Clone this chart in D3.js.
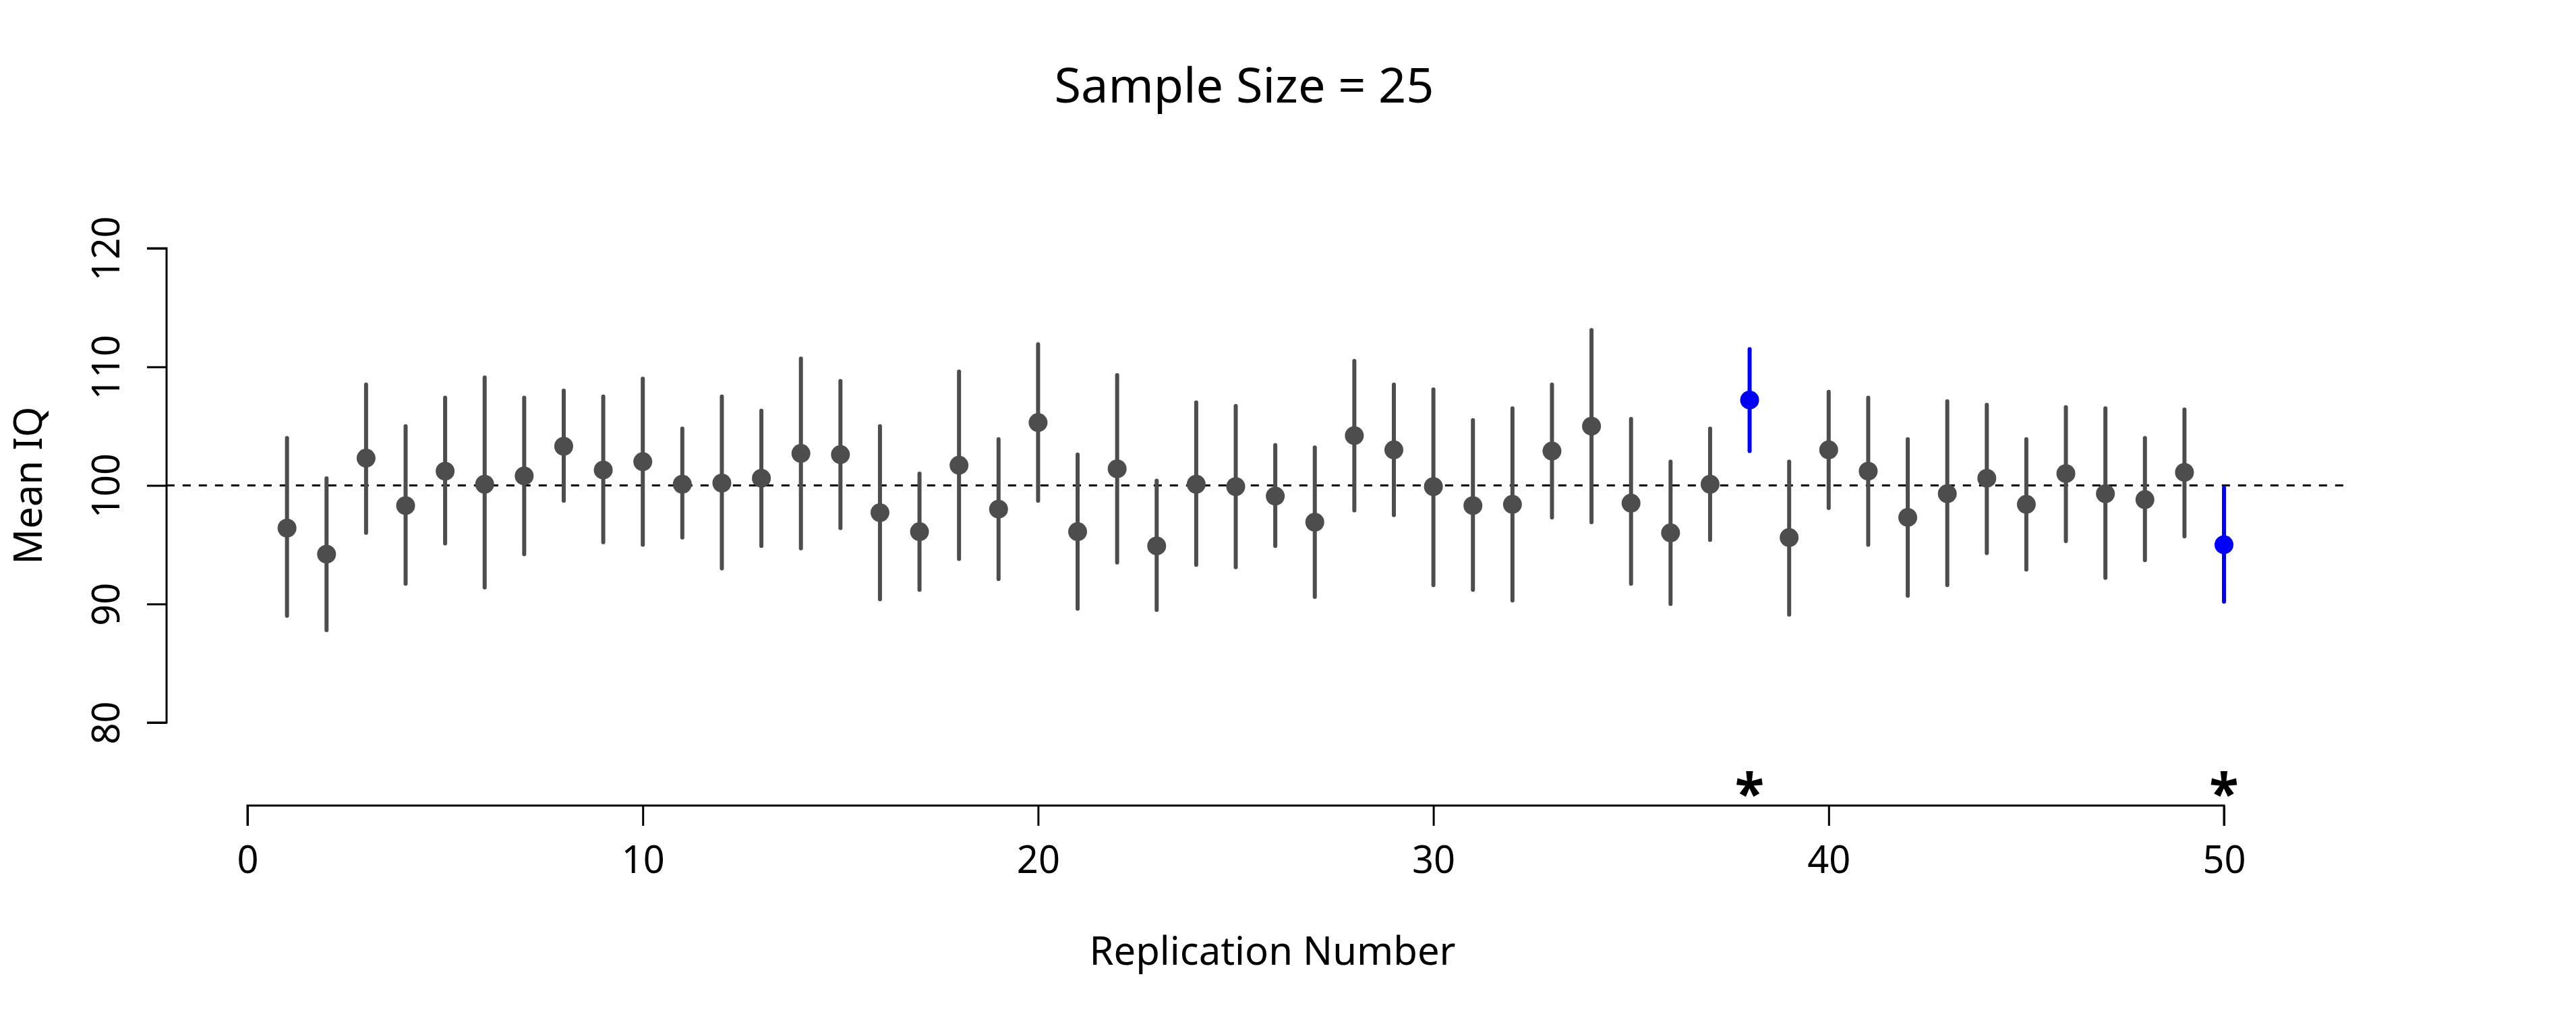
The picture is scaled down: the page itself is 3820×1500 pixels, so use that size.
<!DOCTYPE html>
<html>
<head>
<meta charset="utf-8">
<script src="https://cdn.jsdelivr.net/npm/d3@7"></script>
<style>
  body { margin: 0; background: #fff; }
  text { font-family: "Noto Sans", "Open Sans", sans-serif; }
</style>
</head>
<body>
<svg id="chart" width="3820" height="1500"></svg>
<script>
// one entry per replication
const means = [96.4, 94.2, 102.3, 98.3, 101.2, 100.1, 100.8, 103.3, 101.3, 102.0,
               100.1, 100.2, 100.6, 102.7, 102.6, 97.7, 96.1, 101.7, 98.0, 105.3,
               96.1, 101.4, 94.9, 100.1, 99.9, 99.1, 96.9, 104.2, 103.0, 99.9,
               98.3, 98.4, 102.9, 105.0, 98.5, 96.0, 100.1, 107.2, 95.6, 103.0,
               101.2, 97.3, 99.3, 100.6, 98.4, 101.0, 99.3, 98.8, 101.1, 95.0];
const upper = [104.0, 100.6, 108.5, 105.0, 107.4, 109.1, 107.4, 108.0, 107.5, 109.0,
               104.8, 107.5, 106.3, 110.7, 108.8, 105.0, 101.0, 109.6, 103.9, 111.9,
               102.6, 109.3, 100.4, 107.0, 106.7, 103.4, 103.2, 110.5, 108.5, 108.1,
               105.5, 106.5, 108.5, 113.1, 105.6, 102.0, 104.8, 111.5, 102.0, 107.9,
               107.4, 103.9, 107.1, 106.8, 103.9, 106.6, 106.5, 104.0, 106.4, 99.8];
const lower = [89.0, 87.8, 96.0, 91.7, 95.1, 91.4, 94.2, 98.7, 95.2, 95.0,
               95.6, 93.0, 94.9, 94.7, 96.4, 90.4, 91.2, 93.8, 92.1, 98.7,
               89.6, 93.5, 89.5, 93.3, 93.1, 94.9, 90.6, 97.9, 97.5, 91.6,
               91.2, 90.3, 97.3, 96.9, 91.7, 90.0, 95.4, 102.9, 89.1, 98.1,
               95.0, 90.7, 91.6, 94.3, 92.9, 95.3, 92.2, 93.7, 95.7, 90.2];
const xTicks = [0, 10, 20, 30, 40, 50];
const yTicks = [80, 90, 100, 110, 120];
const trueMean = 100;

const data = means.map((m, i) => ({rep: i + 1, mean: m, hi: upper[i], lo: lower[i]}));
data.forEach(d => d.miss = d.hi < trueMean || d.lo > trueMean);

const svg = d3.select("#chart");
const x = d3.scaleLinear().domain([0, 50]).range([367, 3298]);
const y = d3.scaleLinear().domain([80, 120]).range([1071, 368]);

// y axis, labels rotated like R's las=0
const yAxis = svg.append("g").attr("transform", "translate(247,0)")
  .call(d3.axisLeft(y).tickValues(yTicks).tickSize(29));
yAxis.select(".domain").attr("stroke-width", 3).attr("d", `M-29,${y(80)}H0V${y(120)}H-29`);
yAxis.selectAll(".tick line").attr("stroke-width", 3);
yAxis.selectAll(".tick text")
  .attr("font-size", 56).attr("x", null).attr("dy", null)
  .attr("text-anchor", "middle")
  .attr("transform", "translate(-70,0) rotate(-90)");

// x axis
const xAxis = svg.append("g").attr("transform", "translate(0,1194)")
  .call(d3.axisBottom(x).tickValues(xTicks).tickSize(30).tickPadding(30));
xAxis.select(".domain").attr("stroke-width", 3).attr("d", `M${x(0)},30V0H${x(50)}V30`);
xAxis.selectAll(".tick line").attr("stroke-width", 3);
xAxis.selectAll(".tick text").attr("font-size", 56);

// reference line
svg.append("line")
  .attr("x1", x(-2.05)).attr("x2", x(53.05))
  .attr("y1", y(trueMean)).attr("y2", y(trueMean))
  .attr("stroke", "#000").attr("stroke-width", 3).attr("stroke-dasharray", "12,12");

// intervals and means
const g = svg.append("g").selectAll("g").data(data).join("g");
g.append("line")
  .attr("x1", d => x(d.rep)).attr("x2", d => x(d.rep))
  .attr("y1", d => y(d.lo)).attr("y2", d => y(d.hi))
  .attr("stroke", d => d.miss ? "#0000ff" : "#4d4d4d")
  .attr("stroke-width", 6).attr("stroke-linecap", "round");
g.append("circle")
  .attr("cx", d => x(d.rep)).attr("cy", d => y(d.mean)).attr("r", 14)
  .attr("fill", d => d.miss ? "#0000ff" : "#4d4d4d");

// asterisks for misses
svg.append("g").selectAll("text").data(data.filter(d => d.miss)).join("text")
  .attr("x", d => x(d.rep)).attr("y", 1205)
  .attr("text-anchor", "middle").attr("font-size", 80).attr("font-weight", "bold")
  .text("*");

// titles
svg.append("text").attr("x", 1845).attr("y", 152).attr("text-anchor", "middle")
  .attr("font-size", 72).text("Sample Size = 25");
svg.append("text").attr("x", 1887).attr("y", 1430).attr("text-anchor", "middle")
  .attr("font-size", 58).text("Replication Number");
svg.append("text").attr("transform", `translate(62,${y(100)}) rotate(-90)`)
  .attr("text-anchor", "middle").attr("font-size", 58).text("Mean IQ");
</script>
</body>
</html>
